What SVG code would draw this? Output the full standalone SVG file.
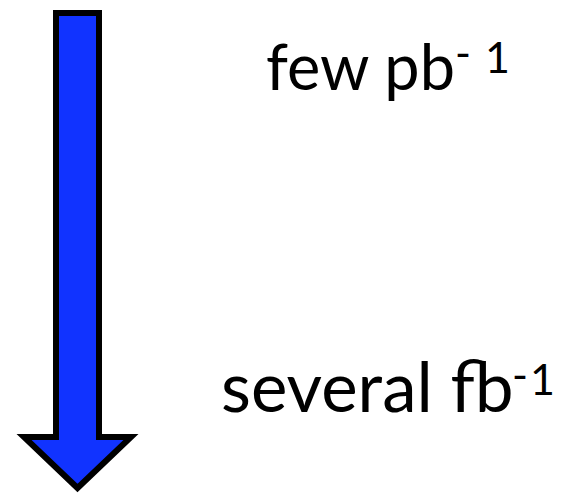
<svg xmlns="http://www.w3.org/2000/svg" width="567" height="493" viewBox="0 0 567 493">
<style>
.lbl{font-family:Lato,"Open Sans","Liberation Sans",sans-serif;font-size:63px;fill:#000}
.big{font-size:69px}
.sup{font-size:43px}
</style>
<rect width="567" height="493" fill="#fff"/>
<g id="arrow">
<path d="M56,13 L99,13 L99,437 L131,437 L77.5,488 L24,437 L56,437 Z" fill="#1133ff" stroke="#000" stroke-width="6" stroke-linejoin="miter"/>
</g>
<g id="label-top">
<text class="lbl" x="266" y="90">few pb<tspan class="sup" x="455" y="68">-</tspan><tspan class="sup" x="485" y="73">1</tspan></text>
</g>
<g id="label-bottom">
<text class="lbl big" x="221" y="412">several fb<tspan class="sup" x="512" y="390">-</tspan><tspan class="sup" x="530" y="395">1</tspan></text>
</g>
</svg>
